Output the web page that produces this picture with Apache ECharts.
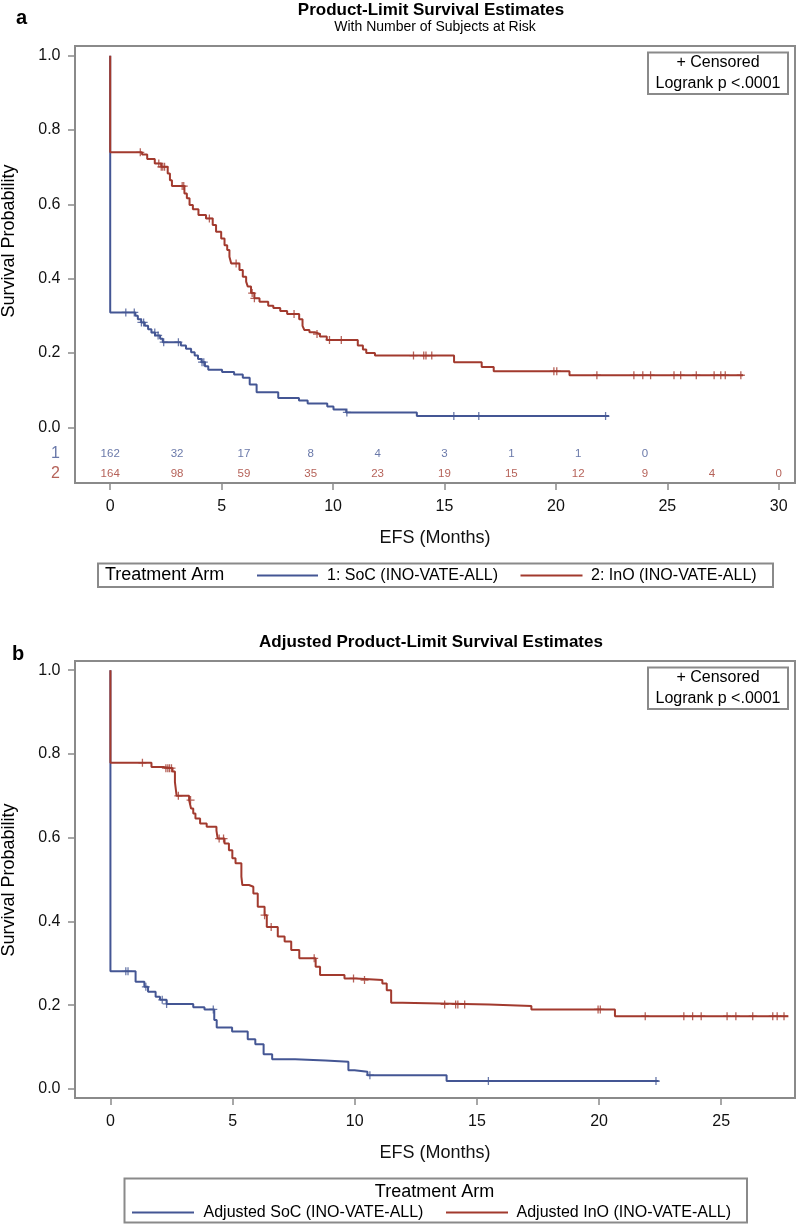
<!DOCTYPE html>
<html><head><meta charset="utf-8">
<script src="https://cdn.jsdelivr.net/npm/echarts@6/dist/echarts.min.js"></script>
<style>html,body{margin:0;padding:0;background:#fff}#c{width:797px;height:1224px}</style>
</head><body><div id="c"></div>
<script>
// ---------------- DATA ----------------
// Panel a: Product-Limit Survival Estimates
const socA_time = [0, 0, 1.13, 1.24, 1.39, 1.55, 1.70, 1.85, 2.01, 2.24, 2.36, 3.17, 3.40, 3.63, 3.79, 3.94, 4.10, 4.25, 4.40, 5.02, 5.56, 5.95, 6.26, 6.57, 7.54, 8.47, 8.86, 9.74, 10.02, 10.59, 13.76, 22.38];
const socA_surv = [1.0, 0.309, 0.300, 0.291, 0.282, 0.273, 0.264, 0.255, 0.247, 0.238, 0.229, 0.220, 0.211, 0.202, 0.193, 0.184, 0.175, 0.164, 0.155, 0.149, 0.142, 0.133, 0.115, 0.094, 0.079, 0.072, 0.064, 0.056, 0.048, 0.040, 0.030, 0.030];
const socA_censor = [0.70, 1.08, 1.40, 1.50, 2.00, 2.15, 2.40, 3.06, 4.12, 4.20, 10.62, 15.42, 16.54, 22.23];

const inoA_time = [0, 0, 1.43, 1.66, 2.00, 2.29, 2.58, 2.68, 2.77, 3.33, 3.44, 3.56, 3.71, 3.96, 4.30, 4.60, 4.75, 4.98, 5.13, 5.25, 5.35, 5.43, 5.80, 5.95, 6.10, 6.17, 6.32, 6.47, 6.70, 7.09, 7.32, 7.63, 7.94, 8.48, 8.63, 8.71, 8.94, 9.18, 9.41, 9.72, 11.11, 11.34, 11.49, 11.88, 15.43, 16.67, 17.21, 20.61, 28.40];
const inoA_surv = [1.0, 0.740, 0.734, 0.722, 0.710, 0.701, 0.683, 0.665, 0.649, 0.629, 0.616, 0.598, 0.587, 0.571, 0.562, 0.544, 0.526, 0.508, 0.490, 0.477, 0.459, 0.441, 0.423, 0.405, 0.392, 0.379, 0.361, 0.347, 0.338, 0.327, 0.321, 0.313, 0.305, 0.291, 0.273, 0.262, 0.256, 0.251, 0.244, 0.235, 0.220, 0.209, 0.200, 0.193, 0.175, 0.162, 0.151, 0.140, 0.140];
const inoA_censor = [1.35, 2.18, 2.29, 2.36, 2.44, 3.23, 3.30, 4.45, 5.65, 6.37, 6.47, 8.25, 9.28, 9.84, 10.37, 13.61, 14.07, 14.17, 14.43, 19.91, 20.04, 21.84, 23.50, 23.90, 24.25, 25.30, 25.60, 26.30, 27.10, 27.40, 27.60, 28.30];

const atRiskTimes = [0, 3, 6, 9, 12, 15, 18, 21, 24, 27, 30];
const atRiskSoC = [162, 32, 17, 8, 4, 3, 1, 1, 0];
const atRiskInO = [164, 98, 59, 35, 23, 19, 15, 12, 9, 4, 0];

// Panel b: Adjusted Product-Limit Survival Estimates
const socB_time = [0, 0, 1.03, 1.39, 1.54, 1.85, 2.03, 2.30, 3.39, 3.85, 4.25, 4.35, 4.98, 5.62, 5.93, 6.27, 6.62, 7.56, 8.80, 9.74, 9.99, 10.52, 13.76, 22.44];
const socB_surv = [1.0, 0.281, 0.256, 0.244, 0.232, 0.220, 0.213, 0.203, 0.195, 0.190, 0.165, 0.147, 0.137, 0.119, 0.107, 0.083, 0.071, 0.068, 0.065, 0.045, 0.041, 0.033, 0.019, 0.019];
const socB_censor = [0.63, 0.72, 1.45, 2.12, 2.30, 4.21, 10.62, 15.47, 22.33];

const inoB_time = [0, 0, 1.68, 2.16, 2.54, 2.64, 2.71, 3.22, 3.30, 3.39, 3.48, 3.67, 3.94, 4.34, 4.39, 4.67, 4.85, 4.99, 5.12, 5.36, 5.40, 5.67, 5.85, 6.03, 6.31, 6.40, 6.85, 7.13, 7.40, 7.73, 8.40, 8.58, 9.58, 10.04, 11.13, 11.31, 11.49, 11.95, 15.50, 17.23, 20.65, 27.75];
const inoB_surv = [1.0, 0.779, 0.769, 0.766, 0.758, 0.733, 0.700, 0.690, 0.670, 0.658, 0.646, 0.634, 0.626, 0.617, 0.598, 0.586, 0.570, 0.551, 0.539, 0.507, 0.487, 0.483, 0.467, 0.435, 0.415, 0.387, 0.364, 0.352, 0.332, 0.312, 0.292, 0.272, 0.264, 0.260, 0.252, 0.236, 0.206, 0.202, 0.198, 0.190, 0.174, 0.174];
const inoB_censor = [1.31, 2.27, 2.35, 2.42, 2.50, 2.78, 3.28, 4.45, 4.63, 6.31, 6.58, 8.34, 9.95, 10.40, 13.68, 14.13, 14.22, 14.50, 19.96, 20.05, 21.89, 23.47, 23.83, 24.18, 25.24, 25.60, 26.29, 27.11, 27.29, 27.57];

const xTicksA = [0, 5, 10, 15, 20, 25, 30];
const xTicksB = [0, 5, 10, 15, 20, 25];
const yTicks = [0, 0.2, 0.4, 0.6, 0.8, 1.0];

// ---------------- STYLE ----------------
const BLUE = '#445694', RED = '#A23A2E', FRAME = '#8a8a8a', TXT = '#111';
const FF = '"Liberation Sans", Arial, sans-serif';
const PLUS = 'path://M-0.8,-5L0.8,-5L0.8,-0.8L5,-0.8L5,0.8L0.8,0.8L0.8,5L-0.8,5L-0.8,0.8L-5,0.8L-5,-0.8L-0.8,-0.8Z';

function pairs(t, s) { return t.map((v, i) => [v, s[i]]); }
function survAt(t, s, x) { let v = s[0]; for (let i = 0; i < t.length; i++) { if (t[i] <= x) v = s[i]; else break; } return v; }
function censorPts(ct, t, s) { return ct.map(x => [x, survAt(t, s, x)]); }

function kmLine(name, t, s, color, gi) {
  return { name, type: 'line', step: 'end', xAxisIndex: gi, yAxisIndex: gi, data: pairs(t, s), symbol: 'none',
    lineStyle: { color, width: 2 }, itemStyle: { color }, z: 3, silent: true, animation: false };
}
function censorSeries(ct, t, s, color, gi) {
  return { type: 'scatter', xAxisIndex: gi, yAxisIndex: gi, data: censorPts(ct, t, s), symbol: PLUS, symbolSize: 8,
    itemStyle: { color }, z: 4, silent: true, animation: false };
}
const ROW1_Y = -0.072, ROW2_Y = -0.126; // layout rows of at-risk table (panel a)
const XMIN_A = -1.58, XMAX_A = 30.73, XMIN_B = -1.45, XMAX_B = 28.02;

function atRiskSeries(counts, rowY, color) {
  return { type: 'scatter', xAxisIndex: 0, yAxisIndex: 0, clip: false, silent: true, animation: false,
    data: counts.map((c, i) => [atRiskTimes[i], rowY, c]), symbolSize: 1, itemStyle: { color: 'rgba(0,0,0,0)' },
    label: { show: true, position: 'inside', formatter: p => String(p.value[2]), color, fontSize: 11.5, fontFamily: FF } };
}
function rowLabel(txt, rowY, color) {
  return { type: 'scatter', xAxisIndex: 0, yAxisIndex: 0, clip: false, silent: true, animation: false,
    data: [[XMIN_A, rowY]], symbolSize: 1, itemStyle: { color: 'rgba(0,0,0,0)' },
    label: { show: true, position: 'left', distance: 14.5, formatter: txt, color, fontSize: 16, fontFamily: FF } };
}

function xAxis(gi, min, max, ticks) {
  return { type: 'value', gridIndex: gi, min, max, splitLine: { show: false },
    axisLine: { show: false, onZero: false },
    axisTick: { show: true, length: 7, customValues: ticks, lineStyle: { color: FRAME, width: 1.5 } },
    axisLabel: { customValues: ticks, margin: 15.5, fontSize: 16, color: TXT, fontFamily: FF },
    name: 'EFS (Months)', nameLocation: 'middle', nameGap: 46,
    nameTextStyle: { fontSize: 18, color: TXT, fontFamily: FF } };
}
function yAxis(gi, min, max) {
  return { type: 'value', gridIndex: gi, min, max, splitLine: { show: false },
    axisLine: { show: false, onZero: false },
    axisTick: { show: true, length: 7, customValues: yTicks, lineStyle: { color: FRAME, width: 1.5 } },
    axisLabel: { customValues: yTicks, margin: 14.5, fontSize: 16, color: TXT, fontFamily: FF, formatter: v => v.toFixed(1) } };
}

function txt(x, y, text, size, opts) {
  opts = opts || {};
  return { type: 'text', x, y, rotation: opts.rot || 0, z: 100,
    style: { text, font: (opts.bold ? 'bold ' : '') + size + 'px ' + FF, fill: opts.color || '#000',
      textAlign: opts.align || 'left', textVerticalAlign: 'middle', align: opts.align || 'left', verticalAlign: 'middle' } };
}
function rect(x, y, w, h) {
  return { type: 'rect', z: 90, shape: { x, y, width: w, height: h }, style: { fill: '#fff', stroke: FRAME, lineWidth: 2 } };
}
function seg(x1, x2, y, color) {
  return { type: 'line', z: 100, shape: { x1, y1: y, x2, y2: y }, style: { stroke: color, lineWidth: 2 } };
}

const graphics = [
  // panel a
  txt(16, 18, 'a', 20, { bold: true }),
  txt(431, 10, 'Product-Limit Survival Estimates', 17, { bold: true, align: 'center' }),
  txt(435, 27.5, 'With Number of Subjects at Risk', 14, { align: 'center' }),
  txt(9, 241, 'Survival Probability', 18, { align: 'center', rot: Math.PI / 2 }),
  rect(648, 52.5, 140, 41.5),
  txt(718, 63, '+ Censored', 16, { align: 'center' }),
  txt(718, 83.5, 'Logrank p <.0001', 16, { align: 'center' }),
  rect(98, 563.5, 675, 23.5),
  txt(105, 575.5, 'Treatment Arm', 18),
  seg(257, 318, 575.5, BLUE),
  txt(327, 575.5, '1: SoC (INO-VATE-ALL)', 16),
  seg(520.5, 582.5, 575.5, RED),
  txt(591, 575.5, '2: InO (INO-VATE-ALL)', 16),
  // panel b
  txt(12, 654, 'b', 20, { bold: true }),
  txt(431, 642, 'Adjusted Product-Limit Survival Estimates', 17, { bold: true, align: 'center' }),
  txt(9, 880, 'Survival Probability', 18, { align: 'center', rot: Math.PI / 2 }),
  rect(648, 667.5, 140, 41.5),
  txt(718, 678, '+ Censored', 16, { align: 'center' }),
  txt(718, 698.5, 'Logrank p <.0001', 16, { align: 'center' }),
  rect(124.5, 1178.5, 622.5, 44),
  txt(434.5, 1192, 'Treatment Arm', 18, { align: 'center' }),
  seg(132, 194, 1212.5, BLUE),
  txt(203.5, 1212.5, 'Adjusted SoC (INO-VATE-ALL)', 16),
  seg(446, 508, 1212.5, RED),
  txt(516.5, 1212.5, 'Adjusted InO (INO-VATE-ALL)', 16)
];

const option = {
  backgroundColor: '#fff',
  animation: false,
  grid: [
    { left: 75, top: 46, width: 720, height: 437, show: true, borderColor: FRAME, borderWidth: 2, backgroundColor: '#fff' },
    { left: 75, top: 661, width: 720, height: 437, show: true, borderColor: FRAME, borderWidth: 2, backgroundColor: '#fff' }
  ],
  xAxis: [xAxis(0, XMIN_A, XMAX_A, xTicksA), xAxis(1, XMIN_B, XMAX_B, xTicksB)],
  yAxis: [yAxis(0, -0.150, 1.026), yAxis(1, -0.0215, 1.022)],
  series: [
    kmLine('1: SoC (INO-VATE-ALL)', socA_time, socA_surv, BLUE, 0),
    kmLine('2: InO (INO-VATE-ALL)', inoA_time, inoA_surv, RED, 0),
    censorSeries(socA_censor, socA_time, socA_surv, BLUE, 0),
    censorSeries(inoA_censor, inoA_time, inoA_surv, RED, 0),
    atRiskSeries(atRiskSoC, ROW1_Y, BLUE),
    atRiskSeries(atRiskInO, ROW2_Y, RED),
    rowLabel('1', ROW1_Y, BLUE),
    rowLabel('2', ROW2_Y, RED),
    kmLine('Adjusted SoC (INO-VATE-ALL)', socB_time, socB_surv, BLUE, 1),
    kmLine('Adjusted InO (INO-VATE-ALL)', inoB_time, inoB_surv, RED, 1),
    censorSeries(socB_censor, socB_time, socB_surv, BLUE, 1),
    censorSeries(inoB_censor, inoB_time, inoB_surv, RED, 1)
  ],
  graphic: { elements: graphics }
};

const chart = echarts.init(document.getElementById('c'), null, { renderer: 'canvas', width: 797, height: 1224 });
chart.setOption(option);
</script>
</body></html>
